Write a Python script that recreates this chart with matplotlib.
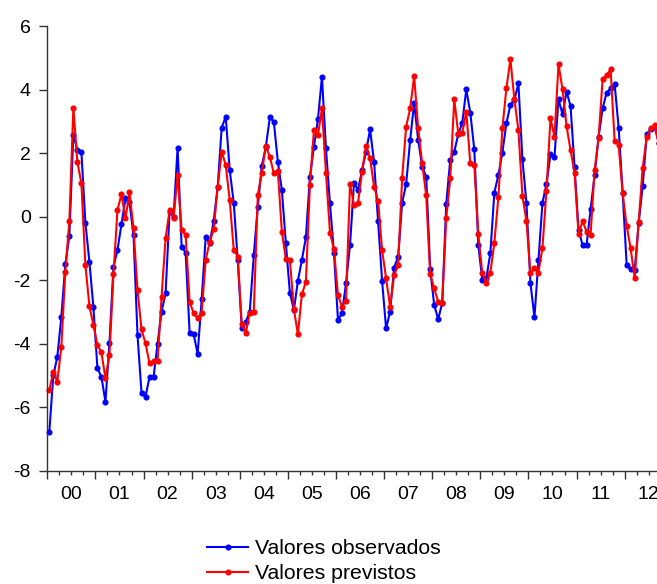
import numpy as np
import matplotlib.pyplot as plt
from matplotlib.ticker import FixedLocator, FuncFormatter

# monthly values, Jan 2000 onwards
observados = [
    -6.77, -5.0, -4.41, -3.15, -1.5, -0.6, 2.59, 2.1, 2.05, -0.19, -1.42, -2.85,
    -4.77, -5.04, -5.83, -3.98, -1.58, -1.05, -0.23, 0.58, 0.45, -0.58,
    -3.73, -5.56, -5.67, -5.04, -5.04, -4.0, -2.99, -2.41, 0.16, 0.0, 2.18, -0.94,
    -1.13, -3.67, -3.7, -4.32, -2.6, -0.65, -0.84, -0.13, 0.95, 2.81,
    3.15, 1.47, 0.44, -1.36, -3.52, -3.31, -2.99, -1.21, 0.32, 1.6, 2.2, 3.13,
    2.99, 1.73, 0.84, -0.84, -2.39, -2.94, -2.02, -1.36, -0.65, 1.26,
    2.2, 3.07, 4.41, 2.15, 0.42, -1.15, -3.25, -3.04, -2.1, -0.89, 1.07, 0.84,
    1.47, 2.05, 2.75, 1.73, -0.13, -2.02, -3.52, -2.99, -1.6, -1.26,
    0.44, 1.03, 2.42, 3.59, 2.42, 1.58, 1.26, -1.66, -2.78, -3.23, -2.71, 0.4,
    1.79, 2.05, 2.6, 2.96, 4.01, 3.28, 2.12, -0.89, -2.0, -1.94,
    -1.15, 0.76, 1.31, 2.02, 2.94, 3.52, 3.68, 4.2, 1.81, 0.44, -2.08, -3.17,
    -1.36, 0.44, 1.03, 1.97, 1.89, 3.7, 3.23, 3.94, 3.49, 1.58,
    -0.42, -0.89, -0.89, 0.23, 1.31, 2.52, 3.41, 3.91, 4.04, 4.18, 2.81, 0.76,
    -1.52, -1.66, -1.68, -0.19, 0.97, 2.6, 2.75, 2.84, 2.31,
]
previstos = [
    -5.46, -4.88, -5.2, -4.09, -1.73, -0.14, 3.44, 1.73, 1.05, -1.52, -2.81, -3.41,
    -4.04, -4.27, -5.09, -4.36, -1.81, 0.21, 0.71, -0.05, 0.77, -0.37,
    -2.31, -3.55, -3.99, -4.62, -4.55, -4.55, -2.52, -0.68, 0.21, -0.05, 1.31, -0.42,
    -0.58, -2.68, -3.04, -3.2, -3.02, -1.36, -0.79, -0.4, 0.95, 2.05,
    1.63, 0.52, -1.05, -1.26, -3.39, -3.67, -3.02, -2.99, 0.68, 1.39, 2.23, 1.89,
    1.37, 1.45, -0.47, -1.34, -1.36, -2.92, -3.7, -2.44, -2.05, 1.0,
    2.73, 2.57, 3.41, 1.39, -0.5, -1.03, -2.47, -2.83, -2.65, 1.03, 0.37, 0.44,
    1.42, 2.23, 1.84, 0.95, 0.5, -1.05, -1.94, -2.83, -1.84, -1.52,
    1.21, 2.84, 3.41, 4.43, 2.78, 1.68, 0.68, -1.81, -2.26, -2.68, -2.71, -0.05,
    1.21, 3.7, 2.62, 2.65, 3.31, 1.68, 1.63, -0.55, -1.78, -2.08,
    -1.76, -0.82, 0.61, 2.78, 4.04, 4.96, 3.7, 2.73, 0.65, -0.13, -1.78, -1.63,
    -1.76, -0.97, 0.82, 3.1, 2.52, 4.81, 4.01, 2.86, 2.1, 1.39,
    -0.55, -0.13, -0.47, -0.58, 1.47, 2.47, 4.33, 4.46, 4.64, 2.39, 2.26, 0.74,
    -0.29, -1.0, -1.94, -0.16, 1.55, 2.5, 2.78, 2.89, 2.31,
]
year_labels = ['00', '01', '02', '03', '04', '05', '06', '07', '08', '09', '10', '11', '12']
legend_labels = ['Valores observados', 'Valores previstos']


def main():
    plt.rcParams['font.family'] = ['Liberation Sans', 'DejaVu Sans']
    plt.rcParams['axes.unicode_minus'] = False

    fig = plt.figure(figsize=(6.57, 5.84), dpi=100)
    # axes run past the right edge, the original picture is cut there
    ax = fig.add_axes([0.072, 0.194, 0.952, 0.761])

    t = 2000 + (np.arange(len(observados)) + 0.5) / 12.0
    ax.plot(t, observados, '-', color='#0000ff', lw=1.5, marker='o', ms=3.4,
            label=legend_labels[0], clip_on=False)
    ax.plot(t, previstos, '-', color='#ff0000', lw=1.5, marker='o', ms=3.4,
            label=legend_labels[1], clip_on=False)

    ax.set_xlim(2000, 2013)
    ax.set_ylim(-8, 6)
    ax.set_yticks(np.arange(-8, 7, 2))

    years = np.arange(2000, 2014)
    ax.xaxis.set_major_locator(FixedLocator(years))
    ax.xaxis.set_major_formatter(FuncFormatter(lambda v, p: ''))
    quarters = [y + q for y in years[:-1] for q in (0.25, 0.5, 0.75)]
    ax.xaxis.set_minor_locator(FixedLocator(quarters))

    def year_fmt(v, p):
        if abs(v - np.floor(v) - 0.5) < 1e-6:
            return year_labels[int(np.floor(v)) - 2000]
        return ''
    ax.xaxis.set_minor_formatter(FuncFormatter(year_fmt))

    ax.tick_params(axis='x', which='major', length=6, width=1.0, color='#333333')
    ax.tick_params(axis='x', which='minor', length=3, width=1.0, color='#333333',
                   pad=8, labelsize=14)
    ax.tick_params(axis='y', length=6, width=1.0, color='#333333', pad=6, labelsize=14)

    for s in ['top', 'right']:
        ax.spines[s].set_visible(False)
    for s in ['left', 'bottom']:
        ax.spines[s].set_color('#333333')
        ax.spines[s].set_linewidth(1.0)

    fig.legend(loc='upper left', bbox_to_anchor=(0.315, 0.077), frameon=False,
               fontsize=15.3, handlelength=1.95, handletextpad=0.3,
               labelspacing=0.3, borderpad=0, borderaxespad=0)

    fig.savefig('out.png', dpi=100)


if __name__ == '__main__':
    main()
